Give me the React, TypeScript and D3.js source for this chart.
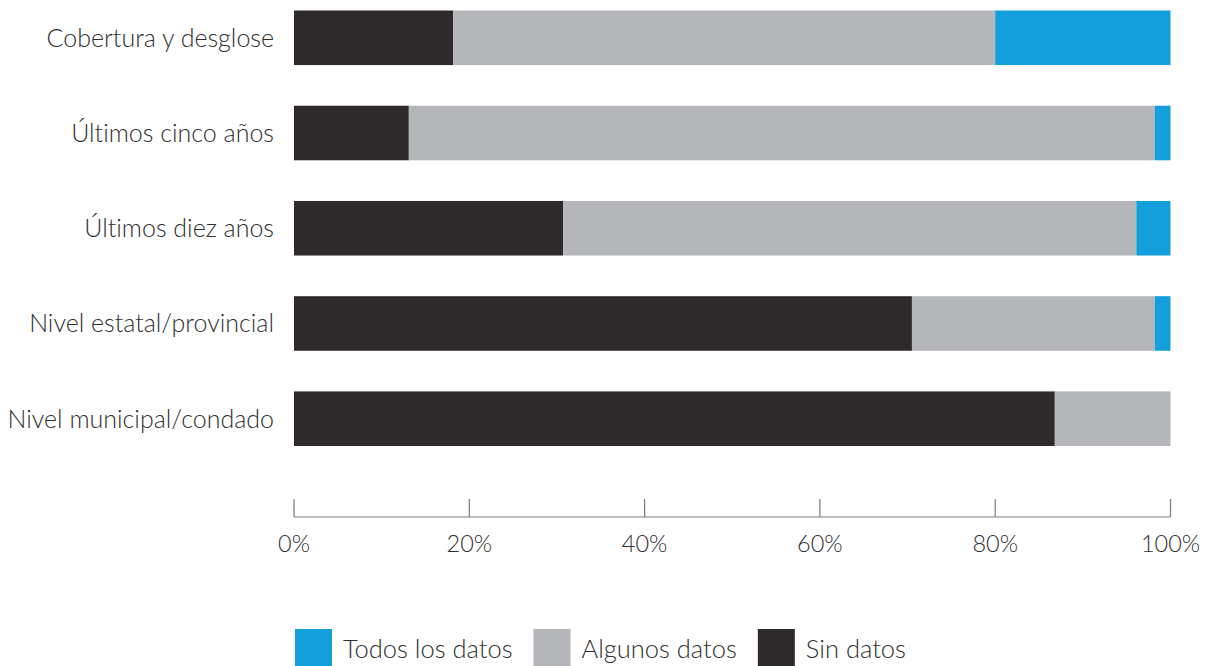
import React, { useEffect, useRef } from "react";
import * as d3 from "d3";

const categories = [
  "Cobertura y desglose",
  "Últimos cinco años",
  "Últimos diez años",
  "Nivel estatal/provincial",
  "Nivel municipal/condado",
];
const sinDatos = [18.15, 13.1, 30.7, 70.5, 86.8];
const algunosDatos = [61.85, 85.1, 65.4, 27.7, 13.2];
const todosDatos = [20.0, 1.8, 3.9, 1.8, 0.0];
const seriesNames = ["Sin datos", "Algunos datos", "Todos los datos"];
const seriesColors = ["#2e2a2b", "#b5b6b9", "#129fdb"];
const legendOrder = ["Todos los datos", "Algunos datos", "Sin datos"];
const tickValues = [0, 20, 40, 60, 80, 100];

const W = 1212;
const H = 666;
const FONT = "Lato, 'Open Sans', sans-serif";
const TEXT = "#2f2f2f";

export default function App() {
  const ref = useRef<SVGSVGElement | null>(null);

  useEffect(() => {
    const svg = d3.select(ref.current);
    svg.selectAll("*").remove();

    const x = d3.scaleLinear().domain([0, 100]).range([294, 1170.5]);
    const y = d3
      .scaleBand<string>()
      .domain(categories)
      .range([10.5, 446])
      .paddingInner(0.427)
      .paddingOuter(0);

    const rows = categories.map((c, i) => ({
      cat: c,
      "Sin datos": sinDatos[i],
      "Algunos datos": algunosDatos[i],
      "Todos los datos": todosDatos[i],
    }));
    const stacked = d3.stack<any>().keys(seriesNames)(rows);
    const color = d3.scaleOrdinal<string, string>().domain(seriesNames).range(seriesColors);

    const g = svg.append("g");
    g.selectAll("g.series")
      .data(stacked)
      .join("g")
      .attr("class", "series")
      .attr("fill", (d) => color(d.key))
      .selectAll("rect")
      .data((d) => d)
      .join("rect")
      .attr("x", (d) => x(d[0]))
      .attr("width", (d) => Math.max(0, x(d[1]) - x(d[0])))
      .attr("y", (d) => y(d.data.cat)!)
      .attr("height", y.bandwidth());

    const txtStyle = "font-variant-ligatures: none; font-kerning: normal";

    // category labels
    svg
      .append("g")
      .selectAll("text")
      .data(categories)
      .join("text")
      .attr("x", 274)
      .attr("y", (d) => y(d)! + y.bandwidth() / 2)
      .attr("dy", "0.36em")
      .attr("text-anchor", "end")
      .attr("font-family", FONT)
      .attr("font-weight", 300)
      .attr("font-size", 25)
      .attr("style", txtStyle)
      .attr("fill", TEXT)
      .text((d) => d);

    // axis
    const axisY = 517;
    const axis = svg.append("g").attr("transform", `translate(0,${axisY})`);
    axis
      .append("line")
      .attr("x1", x(0))
      .attr("x2", x(100))
      .attr("stroke", "#7a7a7a")
      .attr("stroke-width", 1.2);
    const ticks = axis.selectAll("g.tick").data(tickValues).join("g").attr("class", "tick")
      .attr("transform", (d) => `translate(${x(d)},0)`);
    ticks.append("line").attr("y1", -18).attr("y2", 0).attr("stroke", "#7a7a7a").attr("stroke-width", 1.2);
    ticks
      .append("text")
      .attr("y", 35)
      .attr("text-anchor", "middle")
      .attr("font-family", FONT)
      .attr("font-weight", 300)
      .attr("font-size", 23.5)
      .attr("fill", TEXT)
      .text((d) => `${d}%`);

    // legend
    const legend = svg.append("g");
    let lx = 295;
    legendOrder.forEach((name) => {
      legend
        .append("rect")
        .attr("x", lx)
        .attr("y", 629)
        .attr("width", 37)
        .attr("height", 40)
        .attr("fill", color(name));
      const t = legend
        .append("text")
        .attr("x", lx + 48)
        .attr("y", 658)
        .attr("font-family", FONT)
        .attr("font-weight", 300)
        .attr("font-size", 25.5)
        .attr("style", txtStyle)
        .attr("fill", TEXT)
        .text(name);
      const w = (t.node() as SVGTextElement).getComputedTextLength();
      lx = lx + 48 + w + 21;
    });
  }, []);

  return (
    <svg
      ref={ref}
      width={W}
      height={H}
      style={{ position: "absolute", left: 0, top: 0, background: "#fff" }}
    />
  );
}
